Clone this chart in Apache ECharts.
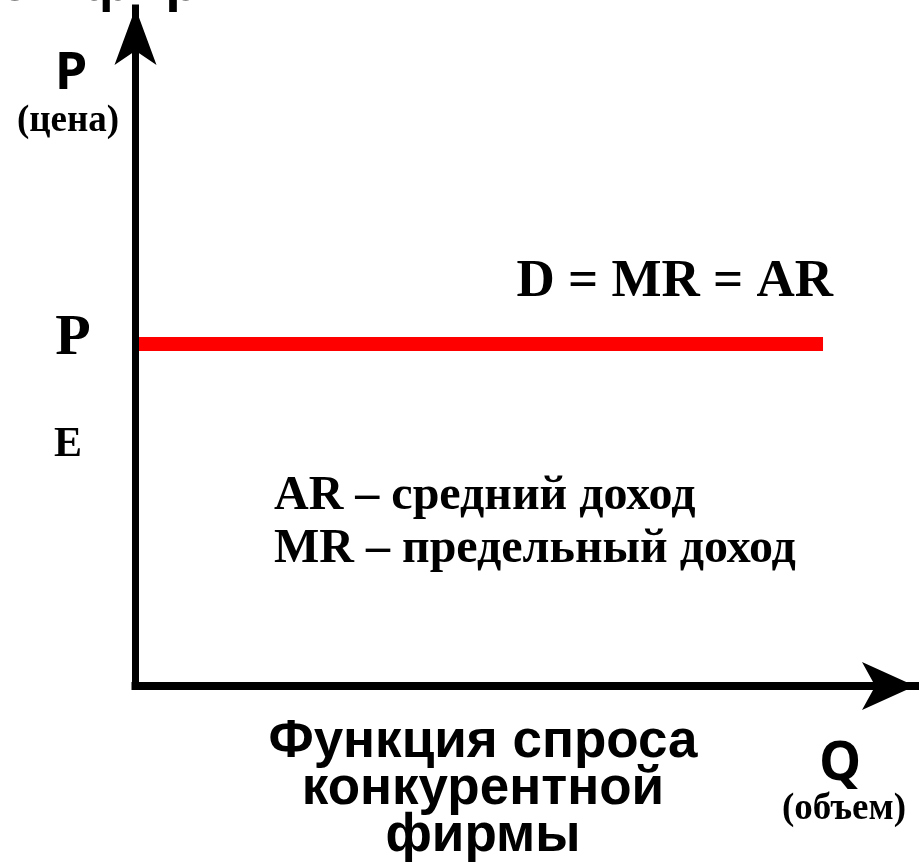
<!DOCTYPE html>
<html>
<head>
<meta charset="utf-8">
<style>html,body{margin:0;padding:0;background:#fff;}#chart{width:922px;height:868px;}</style>
<script src="https://cdn.jsdelivr.net/npm/echarts@6/dist/echarts.min.js"></script>
</head>
<body>
<div id="chart"></div>
<script>
// Data
const quantityPoints = [0, 88.2];          // Q extent of demand line
const priceLevels = [50.44, 50.44];        // P_E (horizontal demand)
const demandLabel = 'D = MR = AR';
const yAxisName = ['P', '(цена)'];
const xAxisName = ['Q', '(объем)'];
const legendLines = ['AR – средний доход', 'MR – предельный доход'];
const captionLines = ['Функция спроса', 'конкурентной', 'фирмы'];
const topTitle = 'конкурентной фирмы';

const demandData = quantityPoints.map((q, i) => [q, priceLevels[i]]);

const chart = echarts.init(document.getElementById('chart'), null, {renderer: 'canvas'});
const serif = '"Liberation Serif", "Times New Roman", serif';
const sans = '"Liberation Sans", Arial, sans-serif';
const sans2 = '"Open Sans", sans-serif';

chart.setOption({
  backgroundColor: '#ffffff',
  animation: false,
  grid: {left: 135.5, top: 8, right: 7, bottom: 182},
  xAxis: {
    type: 'value', min: 0, max: 100, z: 5,
    axisLine: {show: true, symbol: ['none', 'arrow'], symbolSize: [36, 53],
      lineStyle: {color: '#000', width: 8, cap: 'square'}},
    axisTick: {show: false}, axisLabel: {show: false}, splitLine: {show: false}
  },
  yAxis: {
    type: 'value', min: 0, max: 100, z: 5,
    axisLine: {show: true, symbol: ['none', 'arrow'], symbolSize: [31.5, 57],
      lineStyle: {color: '#000', width: 7, cap: 'square'}},
    axisTick: {show: false}, axisLabel: {show: false}, splitLine: {show: false}
  },
  series: [{
    type: 'line', data: demandData, symbol: 'none', z: 1,
    lineStyle: {color: '#ff0000', width: 14, cap: 'butt'}
  }],
  graphic: [
    {type: 'text', style: {text: topTitle, x: 288, y: -15.5, textAlign: 'right', textVerticalAlign: 'middle', font: 'bold 56px ' + sans, fill: '#000'}},
    {type: 'text', style: {text: yAxisName[0], x: 71, y: 74, textAlign: 'center', textVerticalAlign: 'middle', font: 'bold 52px ' + sans2, fill: '#000'}},
    {type: 'text', style: {text: yAxisName[1], x: 68, y: 121, textAlign: 'center', textVerticalAlign: 'middle', font: 'bold 37px ' + serif, fill: '#000'}},
    {type: 'text', style: {text: 'P', x: 73, y: 339, textAlign: 'center', textVerticalAlign: 'middle', font: 'bold 58px ' + serif, fill: '#000'}},
    {type: 'text', style: {text: 'E', x: 68, y: 445, textAlign: 'center', textVerticalAlign: 'middle', font: 'bold 42px ' + serif, fill: '#000'}},
    {type: 'text', style: {text: demandLabel, x: 833, y: 282, textAlign: 'right', textVerticalAlign: 'middle', font: 'bold 53px ' + serif, fill: '#000'}},
    {type: 'text', style: {text: legendLines[0], x: 274, y: 497, textAlign: 'left', textVerticalAlign: 'middle', font: 'bold 48px ' + serif, fill: '#000'}},
    {type: 'text', style: {text: legendLines[1], x: 274, y: 550, textAlign: 'left', textVerticalAlign: 'middle', font: 'bold 48px ' + serif, fill: '#000'}},
    {type: 'text', style: {text: captionLines.join('\n'), x: 483, y: 789, textAlign: 'center', textVerticalAlign: 'middle', lineHeight: 47, font: 'bold 53px ' + sans, fill: '#000'}},
    {type: 'text', style: {text: xAxisName[0], x: 840, y: 765, textAlign: 'center', textVerticalAlign: 'middle', font: 'bold 53px ' + sans2, fill: '#000'}},
    {type: 'text', style: {text: xAxisName[1], x: 844, y: 809, textAlign: 'center', textVerticalAlign: 'middle', font: 'bold 37px ' + serif, fill: '#000'}}
  ]
});
</script>
</body>
</html>
